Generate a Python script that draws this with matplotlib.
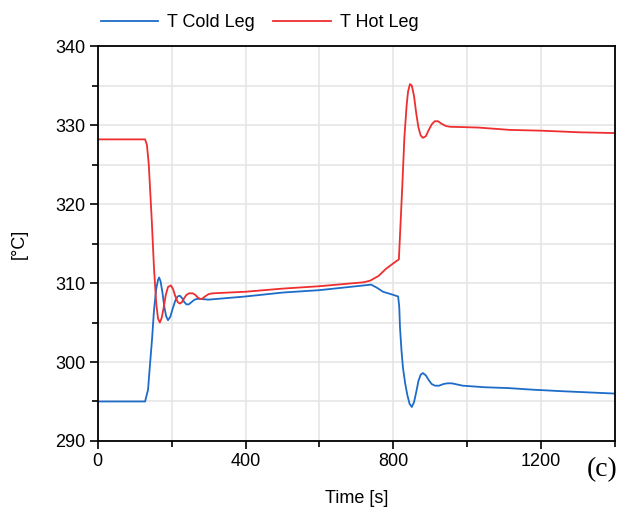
import matplotlib
matplotlib.use('Agg')
from matplotlib import pyplot as plt
from matplotlib.ticker import MultipleLocator

# simulation output, sampled at the turning points of each trace
time_cold = [0, 128, 136, 141, 147, 152, 158, 163, 166, 170, 175, 180, 185, 190,
             196, 203, 210, 216, 222, 228, 234, 240, 246, 254, 262, 270, 276, 300,
             400, 501, 600, 720, 740, 756, 772, 800, 813, 816, 818, 822, 826, 832,
             838, 844, 850, 856, 862, 868, 874, 880, 888, 896, 904, 913, 924, 935,
             946, 958, 988, 1048, 1110, 1175, 1257, 1352, 1400]
temp_cold = [295.0, 295.0, 296.5, 299.5, 303.0, 306.5, 309.2, 310.4, 310.7, 310.2,
             308.8, 307.0, 305.8, 305.3, 305.7, 306.8, 307.8, 308.3, 308.4, 308.1,
             307.6, 307.3, 307.3, 307.6, 307.9, 308.0, 308.0, 307.9, 308.3, 308.8,
             309.1, 309.7, 309.8, 309.4, 308.9, 308.5, 308.3, 307.0, 304.4, 301.5,
             299.3, 297.3, 295.8, 294.7, 294.3, 294.9, 296.2, 297.6, 298.4, 298.6,
             298.3, 297.7, 297.2, 297.0, 297.0, 297.2, 297.3, 297.3, 297.0, 296.8,
             296.7, 296.5, 296.3, 296.1, 296.0]

time_hot = [0, 128, 133, 138, 146, 152, 158, 163, 168, 173, 178, 184, 190, 198,
            204, 210, 216, 222, 228, 234, 240, 247, 257, 264, 270, 276, 282, 290,
            300, 311, 400, 501, 600, 720, 737, 760, 780, 800, 815, 818, 824, 830,
            836, 840, 845, 850, 856, 862, 868, 874, 880, 888, 896, 904, 912, 921,
            930, 942, 953, 1029, 1116, 1202, 1302, 1400]
temp_hot = [328.2, 328.2, 327.5, 325.0, 318.0, 312.0, 307.5, 305.5, 305.0, 305.6,
            306.8, 308.5, 309.5, 309.7, 309.2, 308.3, 307.6, 307.4, 307.6, 308.1,
            308.5, 308.7, 308.7, 308.5, 308.2, 308.0, 308.0, 308.3, 308.6, 308.7,
            308.9, 309.3, 309.6, 310.1, 310.3, 310.9, 311.8, 312.5, 313.0, 316.0,
            322.0, 328.5, 332.5, 334.3, 335.2, 335.0, 333.7, 331.5, 329.7, 328.7,
            328.4, 328.6, 329.4, 330.1, 330.5, 330.5, 330.2, 329.9, 329.8, 329.7,
            329.4, 329.3, 329.1, 329.0]

blue = '#1c6cc8'
red = '#ee2e2f'

plt.rcParams['font.family'] = ['Liberation Sans', 'DejaVu Sans']

fig = plt.figure(figsize=(6.19, 5.08), dpi=100)
ax = fig.add_axes([0.158, 0.132, 0.8355, 0.777])

ax.plot(time_cold, temp_cold, color=blue, lw=1.3, label='T Cold Leg')
ax.plot(time_hot, temp_hot, color=red, lw=1.3, label='T Hot Leg')

ax.set_xlim(0, 1400)
ax.set_ylim(290, 340)
ax.xaxis.set_major_locator(MultipleLocator(400))
ax.xaxis.set_minor_locator(MultipleLocator(200))
ax.yaxis.set_major_locator(MultipleLocator(10))
ax.yaxis.set_minor_locator(MultipleLocator(5))
ax.grid(which='both', color='#e6e6e6', lw=1.2)
ax.set_axisbelow(True)
ax.tick_params(which='major', length=6, width=1.2, labelsize=13, pad=3)
ax.tick_params(which='minor', length=4, width=1.2)
for side in ax.spines.values():
    side.set_linewidth(1.3)

ax.set_xlabel('Time [s]', fontsize=13, labelpad=14)
ax.set_ylabel('[°C]', fontsize=13, labelpad=20)

ax.legend(loc='lower left', bbox_to_anchor=(-0.005, 1.025), ncol=2, frameon=False,
          fontsize=13, handlelength=3.2, handletextpad=0.5, columnspacing=1.0,
          borderaxespad=0.2, borderpad=0.1)

fig.text(0.948, 0.075, '(c)', fontsize=20, family='Liberation Serif',
         ha='left', va='center')

plt.savefig('out.png', dpi=100)
